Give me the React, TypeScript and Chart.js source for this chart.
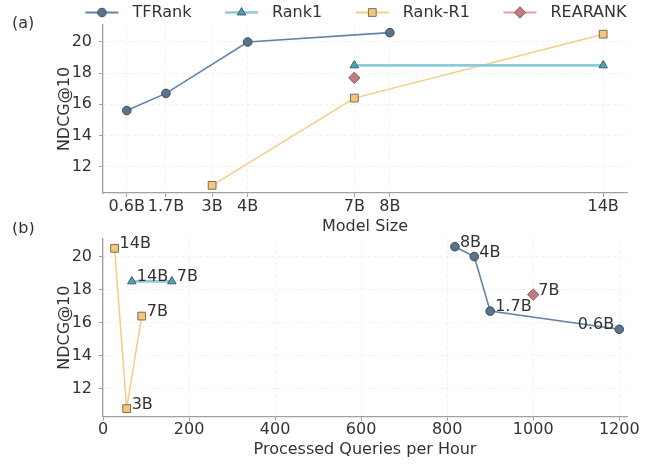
import React, { useEffect, useRef } from 'react';
import { Chart, registerables } from 'chart.js';
import { drawPoint } from 'chart.js/helpers';

Chart.register(...registerables);

// ---------------- data ----------------
const tfrankSizes = ['0.6B', '1.7B', '4B', '8B'];
const tfrankParams = [0.6, 1.7, 4, 8];
const tfrankNdcg = [15.6, 16.7, 20.0, 20.6];
const tfrankQph = [1200, 900, 863, 818];

const rank1Sizes = ['7B', '14B'];
const rank1Params = [7, 14];
const rank1Ndcg = [18.5, 18.5];
const rank1Qph = [160, 67];

const rankR1Sizes = ['3B', '7B', '14B'];
const rankR1Params = [3, 7, 14];
const rankR1Ndcg = [10.8, 16.4, 20.5];
const rankR1Qph = [55, 90, 27];

const rearankSizes = ['7B'];
const rearankParams = [7];
const rearankNdcg = [17.7];
const rearankQph = [1000];

const sizeTickValues = [0.6, 1.7, 3, 4, 7, 8, 14];
const sizeTickLabels = ['0.6B', '1.7B', '3B', '4B', '7B', '8B', '14B'];
const ndcgTicks = [12, 14, 16, 18, 20];
const qphTicks = [0, 200, 400, 600, 800, 1000, 1200];

// ---------------- styles ----------------
const FONT = "'DejaVu Sans', sans-serif";
const TEXT = '#333333';
const SPINE = '#a89c9c';
const GRID = '#ececec';

const STYLES = {
  TFRank: { line: '#6381a8', fill: '#59738f', edge: '#3e4b5c', shape: 'circle', r: 4.3, lw: 1.6, legendLw: 2 },
  Rank1: { line: '#8ccbd9', fill: '#4aa3b6', edge: '#3b5f68', shape: 'triangle', r: 4.9, lw: 2.6, legendLw: 2.6 },
  'Rank-R1': { line: '#f4cd85', fill: '#f2c878', edge: '#7d6d5c', shape: 'rect', r: 5.5, lw: 1.5, legendLw: 2 },
  REARANK: { line: '#d7a4aa', fill: '#c17c82', edge: '#8a5a5f', shape: 'rectRot', r: 5.7, lw: 1.5, legendLw: 2 },
};

type SeriesName = keyof typeof STYLES;

function makeDataset(name: SeriesName, xs: number[], ys: number[], labels: string[], sortByX: boolean) {
  const st = STYLES[name];
  let pts = xs.map((x, i) => ({ x, y: ys[i], label: labels[i] }));
  if (sortByX) pts = pts.slice().sort((a, b) => a.x - b.x);
  return {
    label: name,
    data: pts.map((p) => ({ x: p.x, y: p.y })),
    pointLabels: pts.map((p) => p.label),
    showLine: true,
    borderColor: st.line,
    borderWidth: st.lw,
    pointStyle: st.shape,
    pointRadius: st.r,
    pointHoverRadius: st.r,
    pointBackgroundColor: st.fill,
    pointBorderColor: st.edge,
    pointBorderWidth: 1,
    backgroundColor: st.fill,
    tension: 0,
    clip: false as any,
  };
}

const legendPlugin = {
  id: 'customLegend',
  afterDraw(chart: any) {
    const ctx = chart.ctx;
    ctx.save();
    ctx.font = `16px ${FONT}`;
    ctx.textBaseline = 'middle';
    const names = Object.keys(STYLES) as SeriesName[];
    const lineLen = 33;
    const textGap = 14;
    const itemGap = 33.6;
    const widths = names.map((n) => ctx.measureText(n).width);
    const total = widths.reduce((a, w) => a + lineLen + textGap + w, 0) + itemGap * (names.length - 1);
    const centerX = 356;
    const y = 12.5;
    let x = centerX - total / 2;
    names.forEach((n, i) => {
      const st = STYLES[n];
      ctx.strokeStyle = st.line;
      ctx.lineWidth = st.legendLw;
      ctx.beginPath();
      ctx.moveTo(x, y);
      ctx.lineTo(x + lineLen, y);
      ctx.stroke();
      ctx.fillStyle = st.fill;
      ctx.strokeStyle = st.edge;
      ctx.lineWidth = 1;
      drawPoint(ctx, { pointStyle: st.shape as any, rotation: 0, radius: st.r, borderWidth: 1 }, x + lineLen / 2, y);
      ctx.fillStyle = TEXT;
      ctx.textAlign = 'left';
      ctx.fillText(n, x + lineLen + textGap, y);
      x += lineLen + textGap + widths[i] + itemGap;
    });
    ctx.font = `16px ${FONT}`;
    ctx.fillText('(a)', 12, 23.5);
    ctx.restore();
  },
};

const pointLabelPlugin = {
  id: 'pointLabels',
  afterDraw(chart: any) {
    const ctx = chart.ctx;
    ctx.save();
    ctx.font = `16px ${FONT}`;
    ctx.fillStyle = TEXT;
    ctx.textBaseline = 'alphabetic';
    chart.data.datasets.forEach((ds: any, i: number) => {
      const meta = chart.getDatasetMeta(i);
      meta.data.forEach((el: any, j: number) => {
        const label = ds.pointLabels[j];
        const w = ctx.measureText(label).width;
        if (el.x + 5 + w > chart.chartArea.right) {
          ctx.textAlign = 'right';
          ctx.fillText(label, el.x - 5, el.y);
        } else {
          ctx.textAlign = 'left';
          ctx.fillText(label, el.x + 5, el.y);
        }
      });
    });
    ctx.textAlign = 'left';
    ctx.textBaseline = 'middle';
    ctx.fillText('(b)', 12, 6.5);
    ctx.restore();
  },
};

function yScale() {
  return {
    type: 'linear' as const,
    min: 10.31,
    max: 21.09,
    afterBuildTicks: (s: any) => {
      s.ticks = ndcgTicks.map((v) => ({ value: v }));
    },
    afterFit: (s: any) => {
      s.width = 103;
    },
    ticks: { font: { family: FONT, size: 16 }, color: TEXT, padding: 7 },
    grid: { color: GRID, lineWidth: 0.8, drawTicks: true, tickLength: 4, tickColor: SPINE, tickWidth: 1, tickBorderDash: [] },
    border: { display: true, color: SPINE, width: 1.3, dash: [3, 3] },
    title: { display: true, text: 'NDCG@10', font: { family: FONT, size: 16 }, color: TEXT, padding: { top: 55, bottom: 0 } },
  };
}

function xScale(min: number, max: number, ticks: number[], fmt: (v: number) => string, height: number, title: string, titlePad: number) {
  return {
    type: 'linear' as const,
    min,
    max,
    afterBuildTicks: (s: any) => {
      s.ticks = ticks.map((v) => ({ value: v }));
    },
    afterFit: (s: any) => {
      s.height = height;
    },
    ticks: {
      font: { family: FONT, size: 16 },
      color: TEXT,
      padding: 0,
      maxRotation: 0,
      autoSkip: false,
      callback: (v: any) => fmt(Number(v)),
    },
    grid: { color: GRID, lineWidth: 0.8, drawTicks: true, tickLength: 4, tickColor: SPINE, tickWidth: 1, tickBorderDash: [] },
    border: { display: true, color: SPINE, width: 1.3, dash: [3, 3] },
    title: { display: true, text: title, font: { family: FONT, size: 16 }, color: TEXT, padding: { top: 0, bottom: titlePad } },
  };
}

export default function App() {
  const topRef = useRef<HTMLCanvasElement | null>(null);
  const botRef = useRef<HTMLCanvasElement | null>(null);

  useEffect(() => {
    document.body.style.margin = '0';
    Chart.defaults.font.family = FONT;

    const top = new Chart(topRef.current as HTMLCanvasElement, {
      type: 'scatter',
      data: {
        datasets: [
          makeDataset('TFRank', tfrankParams, tfrankNdcg, tfrankSizes, false),
          makeDataset('Rank1', rank1Params, rank1Ndcg, rank1Sizes, false),
          makeDataset('Rank-R1', rankR1Params, rankR1Ndcg, rankR1Sizes, false),
          makeDataset('REARANK', rearankParams, rearankNdcg, rearankSizes, false),
        ] as any,
      },
      options: {
        responsive: false,
        animation: false,
        devicePixelRatio: 1,
        layout: { padding: { left: 0, right: 25, top: 25, bottom: 0 } },
        plugins: { legend: { display: false }, tooltip: { enabled: false } },
        scales: {
          x: xScale(-0.07, 14.67, sizeTickValues, (v) => sizeTickLabels[sizeTickValues.indexOf(v)] ?? '', 43, 'Model Size', 0),
          y: yScale(),
        } as any,
      },
      plugins: [legendPlugin],
    });

    const bot = new Chart(botRef.current as HTMLCanvasElement, {
      type: 'scatter',
      data: {
        datasets: [
          makeDataset('TFRank', tfrankQph, tfrankNdcg, tfrankSizes, true),
          makeDataset('Rank1', rank1Qph, rank1Ndcg, rank1Sizes, true),
          makeDataset('Rank-R1', rankR1Qph, rankR1Ndcg, rankR1Sizes, true),
          makeDataset('REARANK', rearankQph, rearankNdcg, rearankSizes, true),
        ] as any,
      },
      options: {
        responsive: false,
        animation: false,
        devicePixelRatio: 1,
        layout: { padding: { left: 0, right: 25, top: 11, bottom: 0 } },
        plugins: { legend: { display: false }, tooltip: { enabled: false } },
        scales: {
          x: xScale(0, 1218, qphTicks, (v) => String(v), 47.3, 'Processed Queries per Hour', 5),
          y: yScale(),
        } as any,
      },
      plugins: [pointLabelPlugin],
    });

    return () => {
      top.destroy();
      bot.destroy();
    };
  }, []);

  return (
    <div style={{ position: 'relative', width: 652, height: 464, background: '#ffffff', overflow: 'hidden' }}>
      <canvas ref={topRef} width={652} height={236} style={{ position: 'absolute', left: 0, top: 0, width: 652, height: 236 }} />
      <canvas ref={botRef} width={652} height={242} style={{ position: 'absolute', left: 0, top: 222, width: 652, height: 242 }} />
    </div>
  );
}
